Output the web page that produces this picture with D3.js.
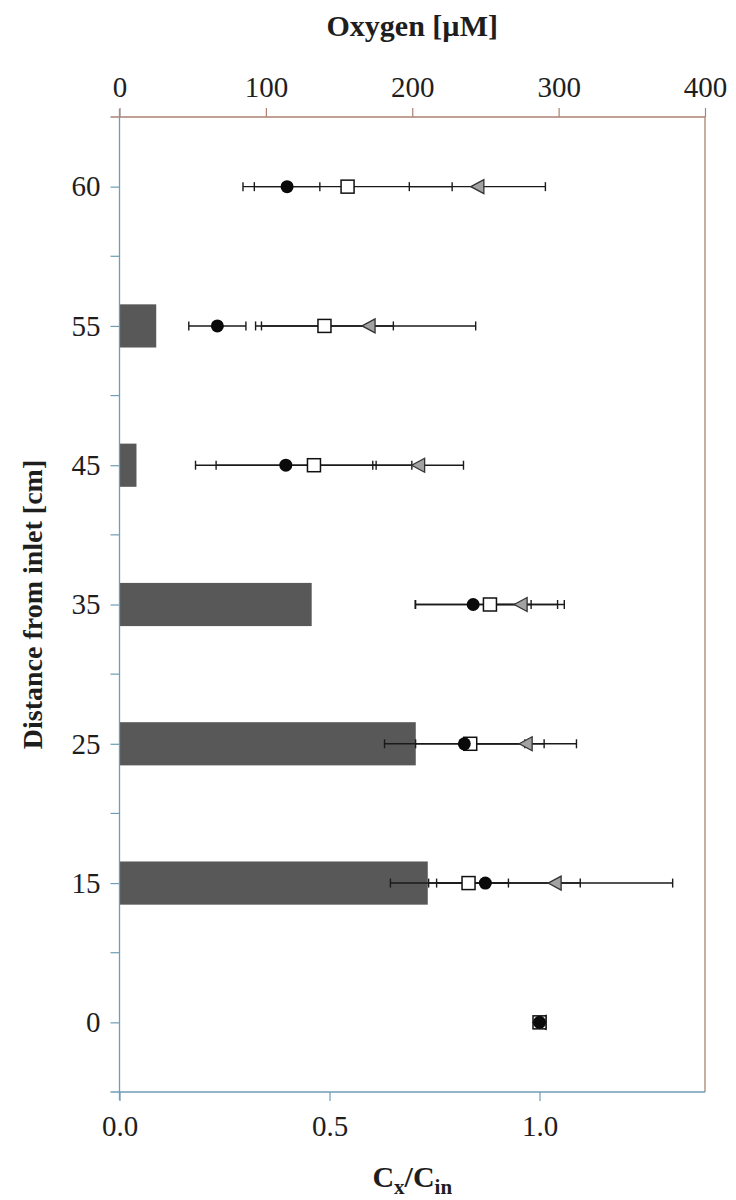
<!DOCTYPE html>
<html>
<head>
<meta charset="utf-8">
<script src="https://cdn.jsdelivr.net/npm/d3@7"></script>
<style>
  body { margin: 0; background: #fff; }
  text { font-family: "Liberation Serif", "DejaVu Serif", serif; fill: #1e1e1e; }
</style>
</head>
<body>
<script>
// ---- data ----
const distances = ["60", "55", "45", "35", "25", "15", "0"];          // cm from inlet, top to bottom
const oxygen = [null, 25.1, 11.6, 131.3, 202.4, 210.6, null];        // bars, µM (top axis)
const circleMean = [0.399, 0.233, 0.396, 0.842, 0.821, 0.871, 1.0];  // Cx/Cin
const circleErr  = [0.078, 0.068, 0.215, 0.138, 0.190, 0.226, 0];
const squareMean = [0.543, 0.488, 0.463, 0.882, 0.835, 0.831, 1.0];
const squareErr  = [0.249, 0.164, 0.233, 0.177, 0.130, 0.095, 0];
const triMean    = [0.852, 0.593, 0.711, 0.955, 0.967, 1.036, 1.0];
const triErr     = [0.162, 0.255, 0.108, 0.088, 0.121, 0.281, 0];
const oxygenTicks = [0, 100, 200, 300, 400];
const ratioTicks = [0, 0.5, 1.0];
const oxygenMax = 400;
const ratioMax = 1.394;

// ---- layout ----
const W = 736, H = 1200;
const L = 119.5, R = 705, T = 117, B = 1092;
const leftCol = "#6f9db5", topCol = "#ad8272";

const svg = d3.select("body").append("svg").attr("width", W).attr("height", H);

const xOxy = d3.scaleLinear().domain([0, oxygenMax]).range([L, R]);
const xRatio = d3.scaleLinear().domain([0, ratioMax]).range([L, R]);
const y = d3.scalePoint().domain(distances).range([T, B]).padding(0.5);
const step = y.step();

// bars (oxygen)
const barH = step * 0.31;
svg.append("g").selectAll("rect")
  .data(distances.map((d, i) => ({ d, v: oxygen[i] })).filter(o => o.v != null))
  .join("rect")
  .attr("x", xOxy(0))
  .attr("y", o => y(o.d) - barH / 2)
  .attr("width", o => xOxy(o.v) - xOxy(0))
  .attr("height", barH)
  .attr("fill", "#585858");

// frame: right line
svg.append("line").attr("x1", R).attr("x2", R).attr("y1", T).attr("y2", B)
  .attr("stroke", topCol).attr("stroke-width", 1.3);

// top axis (oxygen)
const gTop = svg.append("g").attr("transform", `translate(0,${T})`)
  .call(d3.axisTop(xOxy).tickValues(oxygenTicks).tickSize(9).tickPadding(11).tickSizeOuter(0));
gTop.select(".domain").attr("stroke", topCol).attr("stroke-width", 1.3)
  .attr("d", `M${L - 9},0H${R}`);
gTop.selectAll(".tick line").attr("stroke", topCol).attr("stroke-width", 1.2);
gTop.selectAll(".tick text").attr("font-size", 29).attr("fill", "#1e1e1e")
  .style("font-family", "Liberation Serif");

// bottom axis (ratio)
const gBot = svg.append("g").attr("transform", `translate(0,${B})`)
  .call(d3.axisBottom(xRatio).tickValues(ratioTicks).tickFormat(d3.format(".1f"))
    .tickSize(9).tickPadding(14).tickSizeOuter(0));
gBot.select(".domain").attr("stroke", leftCol).attr("stroke-width", 1.3)
  .attr("d", `M${L - 9},0H${R}`);
gBot.selectAll(".tick line").attr("stroke", leftCol).attr("stroke-width", 1.2);
gBot.selectAll(".tick text").attr("font-size", 29).attr("fill", "#1e1e1e")
  .style("font-family", "Liberation Serif");

// left axis (distance)
const gLeft = svg.append("g").attr("transform", `translate(${L},0)`)
  .call(d3.axisLeft(y).tickSize(9).tickPadding(10).tickSizeOuter(0));
gLeft.select(".domain").attr("stroke", leftCol).attr("stroke-width", 1.3)
  .attr("d", `M0,${T - 8}V${B + 8}`);
gLeft.selectAll(".tick line").attr("stroke", leftCol).attr("stroke-width", 1.2);
gLeft.selectAll(".tick text").attr("font-size", 29).attr("fill", "#1e1e1e")
  .style("font-family", "Liberation Serif");
// minor ticks between categories (derived from the point scale)
const minor = distances.slice(1).map(d => y(d) - step / 2);
gLeft.selectAll(".minor").data(minor).join("line").attr("class", "minor")
  .attr("x1", -9).attr("x2", 0).attr("y1", v => v).attr("y2", v => v)
  .attr("stroke", leftCol).attr("stroke-width", 1.2);

// error bars + markers
const series = [
  { mean: triMean, err: triErr, kind: "tri" },
  { mean: squareMean, err: squareErr, kind: "sq" },
  { mean: circleMean, err: circleErr, kind: "circ" }
];
const gErr = svg.append("g");
series.forEach(s => {
  distances.forEach((d, i) => {
    const e = s.err[i];
    if (!e) return;
    const yy = y(d), x0 = xRatio(s.mean[i] - e), x1 = xRatio(s.mean[i] + e);
    gErr.append("line").attr("x1", x0).attr("x2", x1).attr("y1", yy).attr("y2", yy)
      .attr("stroke", "#1a1a1a").attr("stroke-width", 1.4);
    [x0, x1].forEach(xc => gErr.append("line").attr("x1", xc).attr("x2", xc)
      .attr("y1", yy - 4.5).attr("y2", yy + 4.5).attr("stroke", "#1a1a1a").attr("stroke-width", 1.4));
  });
});
const gMark = svg.append("g");
series.forEach(s => {
  const pts = distances.map((d, i) => ({ x: xRatio(s.mean[i]), y: y(d) }));
  if (s.kind === "tri") {
    gMark.selectAll(".tri").data(pts).join("path").attr("class", "tri")
      .attr("d", p => `M${p.x - 6.5},${p.y}L${p.x + 6.5},${p.y - 7}L${p.x + 6.5},${p.y + 7}Z`)
      .attr("fill", "#a2a2a2").attr("stroke", "#333").attr("stroke-width", 1.3);
  } else if (s.kind === "sq") {
    gMark.selectAll(".sq").data(pts).join("rect").attr("class", "sq")
      .attr("x", p => p.x - 6.5).attr("y", p => p.y - 6.5).attr("width", 13).attr("height", 13)
      .attr("fill", "#fff").attr("stroke", "#111").attr("stroke-width", 1.5);
  } else {
    gMark.selectAll(".circ").data(pts).join("circle").attr("class", "circ")
      .attr("cx", p => p.x).attr("cy", p => p.y).attr("r", 6.5).attr("fill", "#0a0a0a");
  }
});

// titles
svg.append("text").attr("x", (L + R) / 2).attr("y", 36).attr("text-anchor", "middle")
  .attr("font-size", 30).attr("font-weight", "bold").text("Oxygen [µM]");

const bt = svg.append("text").attr("x", (L + R) / 2).attr("y", 1187).attr("text-anchor", "middle")
  .attr("font-size", 30).attr("font-weight", "bold");
bt.append("tspan").text("C");
bt.append("tspan").attr("font-size", 21).attr("dy", 7).text("x");
bt.append("tspan").attr("dy", -7).text("/C");
bt.append("tspan").attr("font-size", 21).attr("dy", 7).text("in");

svg.append("text").attr("transform", `translate(42,${(T + B) / 2}) rotate(-90)`)
  .attr("text-anchor", "middle").attr("font-size", 28).attr("font-weight", "bold")
  .text("Distance from inlet [cm]");
</script>
</body>
</html>
